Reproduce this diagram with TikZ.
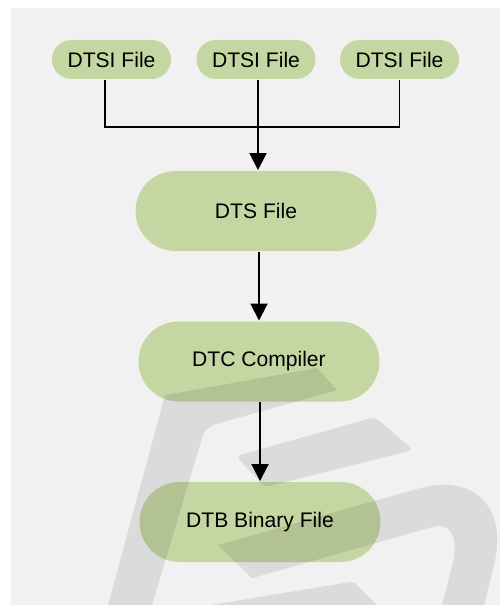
\documentclass[tikz,border=0pt]{standalone}
\usepackage{fontspec}
\setmainfont{Liberation Sans}
\usepackage{tikz}
\usetikzlibrary{arrows.meta}
\usetikzlibrary{shapes.misc}

\definecolor{dtgreen}{RGB}{196,214,161}
\definecolor{bggray}{RGB}{241,241,241}

\begin{document}
\begin{tikzpicture}[line width=1.1pt,
  conn/.style={-{Triangle[width=9.6pt,length=9.6pt]}},
  small node/.style={rounded rectangle,fill=dtgreen,minimum width=2.38cm,minimum height=0.78cm,inner sep=0pt,font=\fontsize{12}{14}\selectfont},
  big node/.style={rounded rectangle,fill=dtgreen,minimum width=4.82cm,minimum height=1.6cm,inner sep=0pt,font=\fontsize{12}{14}\selectfont},
  wmark/.style={fill=black,fill opacity=0.09}]

    \useasboundingbox (0,0) rectangle (10,-12.1);
    \fill[bggray] (0.22,-0.16) rectangle (10,-12.1);

    \node[small node] (dtsib) at (5.12,-1.19) {DTSI File};
    \node[small node] (dtsia) [left of = dtsib, node distance=2.89cm] {DTSI File};
    \node[small node] (dtsic) [right of = dtsib, node distance=2.87cm] {DTSI File};
    \node[big node] (dts) [below of = dtsib, node distance=3.03cm] {DTS File};
    \node[big node] (dtc) [below of = dts, node distance=3.01cm, xshift=0.06cm] {DTC Compiler};
    \node[big node] (dtb) [below of = dtc, node distance=3.21cm, xshift=0.02cm] {DTB Binary File};

    \coordinate (join) at (5.16,-2.54);

    \draw ([xshift=-0.13cm]dtsia.south) |- (join) -| (dtsic.south);
    \draw[conn] (dtsib.south -| join) -- (dts.north -| join);
    \draw[conn] (dts.south -| dtc.north) -- (dtc.north);
    \draw[conn] (dtc.south -| dtb.north) -- (dtb.north);

    % logo shapes laid over the chart
    \begin{scope}[x=0.02cm,y=-0.02cm]
      \fill[wmark] (165,395) -- (317,368) -- (337,390) -- (216,424)
        .. controls (206,427) and (204,432) .. (201,441) -- (152,605) -- (108,605) -- cycle;
      \fill[wmark,rounded corners=3pt] (236,456) -- (375,417) -- (413,450) -- (265,487) -- cycle;
      \fill[wmark] (218,545) -- (420,488) .. controls (472,474) and (506,505) .. (495,560)
        -- (484,605) -- (442,605) -- (453,562) .. controls (458,535) and (450,522) .. (432,527)
        -- (252,578) -- cycle;
      \fill[wmark] (210,605) -- (350,582) -- (355,583) -- (377,605) -- cycle;
    \end{scope}

\end{tikzpicture}
\end{document}
